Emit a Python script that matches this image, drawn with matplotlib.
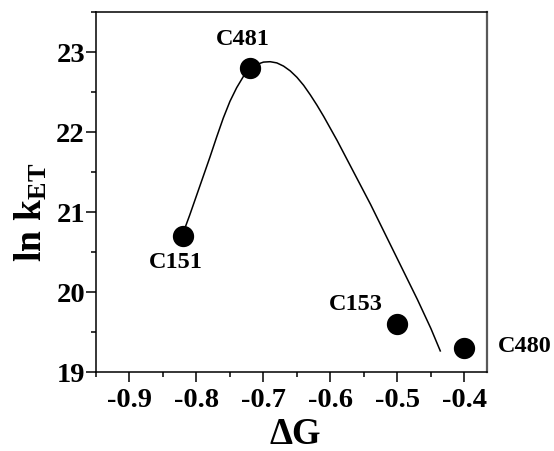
import numpy as np
import matplotlib
matplotlib.use("Agg")
import matplotlib.pyplot as plt
from matplotlib.ticker import MultipleLocator

plt.rcParams['font.family'] = ['Liberation Serif', 'DejaVu Serif']
plt.rcParams['font.weight'] = 'bold'
plt.rcParams['axes.unicode_minus'] = False
plt.rcParams['mathtext.fontset'] = 'custom'
plt.rcParams['mathtext.rm'] = 'Liberation Serif:bold'
plt.rcParams['mathtext.bf'] = 'Liberation Serif:bold'
plt.rcParams['mathtext.it'] = 'Liberation Serif:bold'

# dyes: driving force (eV) vs ln k_ET
dyes = ['C151', 'C481', 'C153', 'C480']
dG = [-0.82, -0.72, -0.50, -0.40]
ln_k = [20.7, 22.8, 19.6, 19.3]
# label anchor points (data coords)
lab_x = [-0.831, -0.731, -0.562, -0.310]
lab_y = [20.38, 23.16, 19.85, 19.33]

# fitted curve
fit_x = [-0.821, -0.81, -0.80, -0.79, -0.78, -0.77, -0.76, -0.75, -0.74, -0.73,
         -0.72, -0.71, -0.70, -0.69, -0.68, -0.67, -0.66, -0.65, -0.64, -0.63,
         -0.62, -0.61, -0.60, -0.59, -0.58, -0.57, -0.56, -0.55, -0.54, -0.53,
         -0.52, -0.51, -0.50, -0.49, -0.48, -0.47, -0.46, -0.45, -0.436]
fit_y = [20.71, 20.96, 21.20, 21.44, 21.68, 21.93, 22.17, 22.38, 22.55, 22.69,
         22.78, 22.84, 22.87, 22.875, 22.86, 22.82, 22.76, 22.68, 22.58, 22.46,
         22.33, 22.19, 22.04, 21.89, 21.73, 21.57, 21.41, 21.25, 21.09, 20.92,
         20.75, 20.58, 20.41, 20.24, 20.07, 19.90, 19.72, 19.54, 19.26]

fig = plt.figure(figsize=(5.54, 4.52), dpi=100)
ax = fig.add_axes([0.1733, 0.1754, 0.7052, 0.7965])

ax.plot(fit_x, fit_y, color='black', lw=1.1, zorder=2, solid_joinstyle='round')
ax.scatter(dG, ln_k, s=205, color='black', zorder=3, clip_on=False)

for name, x, y in zip(dyes, lab_x, lab_y):
    ax.text(x, y, name, fontsize=17.5, fontweight='bold', ha='center', va='center',
            clip_on=False)

ax.set_xlim(-0.95, -0.3667)
ax.set_ylim(19, 23.5)
ax.xaxis.set_major_locator(MultipleLocator(0.1))
ax.xaxis.set_minor_locator(MultipleLocator(0.05))
ax.yaxis.set_major_locator(MultipleLocator(1))
ax.yaxis.set_minor_locator(MultipleLocator(0.5))
ax.xaxis.set_major_formatter(matplotlib.ticker.FormatStrFormatter('%.1f'))

ax.tick_params(which='both', direction='out', top=False, right=False, width=1.1)
ax.tick_params(which='major', length=7, labelsize=20.5, pad=4)
ax.tick_params(axis='y', which='major', length=7, pad=1)
ax.tick_params(which='minor', length=3.5)

for s in ax.spines.values():
    s.set_linewidth(1.1)
ax.spines['right'].set_color('0.35')
ax.spines['right'].set_linewidth(1.6)

ax.set_xlabel('ΔG', fontsize=26.5, fontweight='bold')
ax.xaxis.set_label_coords(0.51, -0.124)
ax.set_ylabel(r'$\mathbf{ln\ k_{ET}}$', fontsize=27)
ax.yaxis.set_label_coords(-0.118, 0.446)

fig.savefig('out.png', dpi=100)
